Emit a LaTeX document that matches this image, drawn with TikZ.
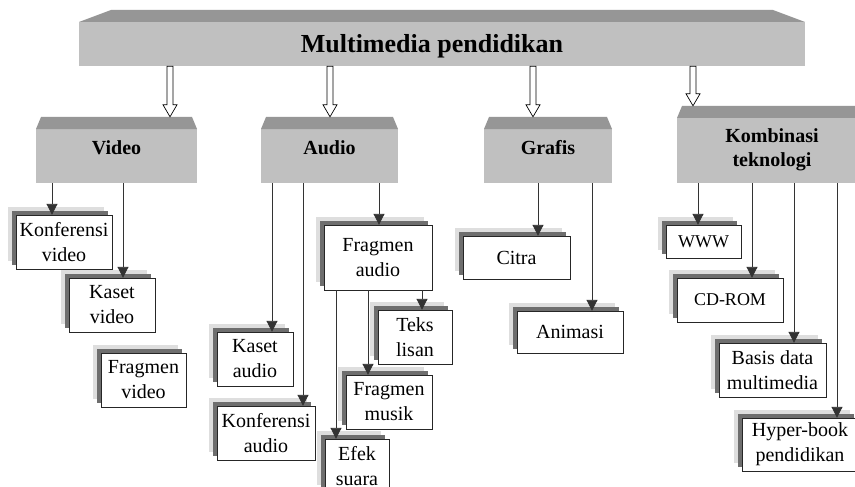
\documentclass[tikz,border=0pt]{standalone}
\usepackage{fontspec}
\setmainfont{Liberation Serif}
\usetikzlibrary{arrows.meta,calc,shadows}
\definecolor{slabface}{RGB}{192,192,192}
\definecolor{slabtop}{RGB}{150,150,150}
\definecolor{shadedark}{RGB}{110,110,110}
\definecolor{shadelight}{RGB}{222,222,222}

\begin{document}
\begin{tikzpicture}[x=1pt, y=-1pt,
      slab/.style={inner sep=0pt, align=center, fill=white,
        path picture={
          \fill[slabface] ([yshift=-12pt]path picture bounding box.north west)
            rectangle (path picture bounding box.south east);
          \fill[slabtop] ([yshift=-12pt]path picture bounding box.north west)
            -- ([xshift=#1]path picture bounding box.north west)
            -- ([xshift=-#1]path picture bounding box.north east)
            -- ([yshift=-12pt]path picture bounding box.north east) -- cycle;}},
      top/.style={slab=32pt, font=\bfseries\fontsize{26}{30}\selectfont,
        text height=36pt, text depth=6pt},
      cat/.style={slab=5pt, font=\bfseries\fontsize{20}{24}\selectfont,
        text height=12pt, text depth=4pt},
      leaf/.style={draw=black!85, fill=white, inner sep=0pt, align=center,
        font=\fontsize{20}{25}\selectfont,
        general shadow={fill=shadelight, shadow xshift=-8pt, shadow yshift=8pt},
        general shadow={fill=shadedark, shadow xshift=-4pt, shadow yshift=4pt}},
      link/.style={draw=black!80, line width=0.9pt,
        -{Triangle[length=11pt, width=11pt]}},
      hollow/.style={draw=black, line width=0.7pt, fill=white,
        to path={($(\tikztostart)+(-3,0)$) -- ($(\tikztotarget)+(-3,-12)$)
          -- ($(\tikztotarget)+(-7,-12)$) -- (\tikztotarget)
          -- ($(\tikztotarget)+(7,-12)$) -- ($(\tikztotarget)+(3,-12)$)
          -- ($(\tikztostart)+(3,0)$) -- cycle}}]
    \fill[white] (0,0) rectangle (855,487);
    \useasboundingbox (0,0) rectangle (855,487);
    \clip (0,0) rectangle (855,487);

    \node[top, minimum width=726pt, minimum height=56pt] (top) at (442,38)
      {Multimedia pendidikan\hspace*{20pt}};

    \node[cat, minimum width=161pt, minimum height=66pt] (video) at (116.5,150) {Video};
    \node[cat, minimum width=137pt, minimum height=66pt] (audio) at (329.5,150) {Audio};
    \node[cat, minimum width=128pt, minimum height=66pt] (grafis) at (548,150) {Grafis};
    \node[cat, minimum width=190pt, minimum height=77pt, text height=48pt, text depth=5pt] (kombi)
      at (772,144.5) {Kombinasi\\teknologi};

    \draw[hollow] (170,0 |- top.south) to (170,0 |- video.north);
    \draw[hollow] (330,0 |- top.south) to (330,0 |- audio.north);
    \draw[hollow] (533,0 |- top.south) to (533,0 |- grafis.north);
    \draw[hollow] (693,0 |- top.south) to (693,0 |- kombi.north);

    \node[leaf, minimum width=96pt, minimum height=54pt] (konfvid) at (64,242) {Konferensi\\video};
    \node[leaf, minimum width=86pt, minimum height=54pt] (kasvid) at (112,305) {Kaset\\video};
    \node[leaf, minimum width=85pt, minimum height=54pt] (fragvid) at (143.5,380) {Fragmen\\video};

    \node[leaf, minimum width=108pt, minimum height=65pt] (fragaud) at (378,257.5) {Fragmen\\audio};
    \node[leaf, minimum width=74pt, minimum height=54pt] (tekslis) at (415,337) {Teks\\lisan};
    \node[leaf, minimum width=76pt, minimum height=54pt] (kasaud) at (255,359) {Kaset\\audio};
    \node[leaf, minimum width=86pt, minimum height=54pt] (fragmus) at (389,402) {Fragmen\\musik};
    \node[leaf, minimum width=98pt, minimum height=54pt] (konfaud) at (266,433) {Konferensi\\audio};
    \node[leaf, minimum width=64pt, minimum height=54pt] (efek) at (357,466) {Efek\\suara};

    \node[leaf, minimum width=107pt, minimum height=43pt] (citra) at (516.5,257.5) {Citra};
    \node[leaf, minimum width=106pt, minimum height=42pt] (animasi) at (570,332) {Animasi};

    \node[leaf, minimum width=75pt, minimum height=33pt, font=\fontsize{18}{22}\selectfont] (www)
      at (703.5,241.5) {WWW};
    \node[leaf, minimum width=106pt, minimum height=44pt, font=\fontsize{18}{22}\selectfont] (cdrom)
      at (730,300) {CD-ROM};
    \node[leaf, minimum width=107pt, minimum height=54pt] (basis) at (772.5,370) {Basis data\\multimedia};
    \node[leaf, minimum width=116pt, minimum height=53pt] (hyper) at (800,444.5) {Hyper-book\\pendidikan};

    \draw[link] (52,0 |- video.south) -- (52,0 |- konfvid.north);
    \draw[link] (123,0 |- video.south) -- (123,0 |- kasvid.north);

    \draw[link] (272,0 |- audio.south) -- (272,0 |- kasaud.north);
    \draw[link] (303,0 |- audio.south) -- (303,0 |- konfaud.north);
    \draw[link] (379,0 |- audio.south) -- (379,0 |- fragaud.north);
    \draw[link] (422,0 |- fragaud.south) -- (422,0 |- tekslis.north);
    \draw[link] (368,0 |- fragaud.south) -- (368,0 |- fragmus.north);
    \draw[link] (336,0 |- fragaud.south) -- (336,0 |- efek.north);

    \draw[link] (538,0 |- grafis.south) -- (538,0 |- citra.north);
    \draw[link] (592,0 |- grafis.south) -- (592,0 |- animasi.north);

    \draw[link] (698,0 |- kombi.south) -- (698,0 |- www.north);
    \draw[link] (752,0 |- kombi.south) -- (752,0 |- cdrom.north);
    \draw[link] (794,0 |- kombi.south) -- (794,0 |- basis.north);
    \draw[link] (837,0 |- kombi.south) -- (837,0 |- hyper.north);
  \end{tikzpicture}
\end{document}
